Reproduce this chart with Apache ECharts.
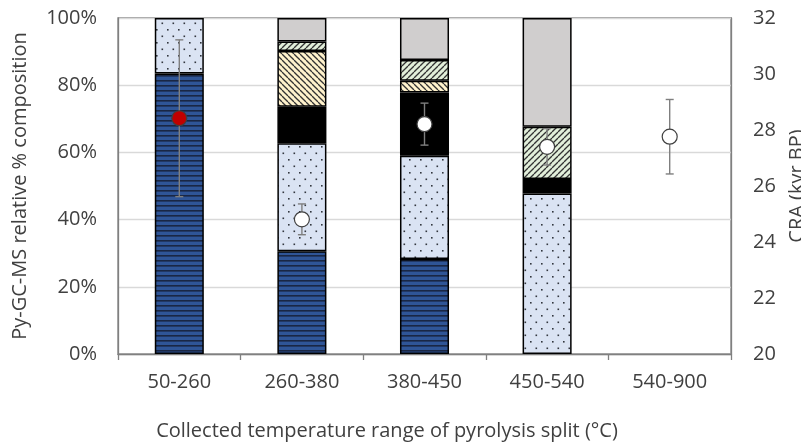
<!DOCTYPE html>
<html><head><meta charset="utf-8">
<script src="https://cdn.jsdelivr.net/npm/echarts@6/dist/echarts.min.js"></script>
<style>html,body{margin:0;padding:0;background:#fff}#c{width:801px;height:444px}</style>
</head><body><div id="c"></div>
<script>
const categories = ['50-260', '260-380', '380-450', '450-540', '540-900'];
const blueStriped = [83.5, 30.6, 28.3, 0, null];
const dottedBlue = [16.5, 32.1, 30.7, 47.8, null];
const blackPart = [0, 10.9, 18.8, 4.3, null];
const yellowHatch = [0, 16.6, 3.5, 0, null];
const greenHatch = [0, 2.8, 6.2, 15.5, null];
const greyPart = [0, 7.0, 12.5, 32.4, null];
const craValues = [28.42, 24.81, 28.21, 27.40, 27.76];
const craErrors = [2.8, 0.55, 0.75, 0.65, 1.33];
const leftTicks = { min: 0, max: 100, interval: 20 };
const rightTicks = { min: 20, max: 32, interval: 2 };

function tile(w, h, draw) {
  const c = document.createElement('canvas');
  c.width = w; c.height = h;
  const g = c.getContext('2d');
  draw(g, w, h);
  return { image: c, repeat: 'repeat' };
}
const stripePat = tile(8, 5, (g, w, h) => {
  g.fillStyle = '#2f5597'; g.fillRect(0, 0, w, h);
  g.fillStyle = '#1a2744'; g.fillRect(0, 0, w, 1.6);
});
const dotPat = tile(11, 13, (g, w, h) => {
  g.fillStyle = '#dae3f3'; g.fillRect(0, 0, w, h);
  g.fillStyle = '#33373f';
  g.fillRect(2, 3, 1.6, 1.6);
  g.fillRect(7.5, 9.5, 1.6, 1.6);
});
function hatch(bg, back) {
  return tile(6, 6, (g, w, h) => {
    g.fillStyle = bg; g.fillRect(0, 0, w, h);
    g.strokeStyle = '#333333'; g.lineWidth = 1.3;
    for (const k of [-w, 0, w]) {
      g.beginPath();
      if (back) { g.moveTo(k, 0); g.lineTo(k + w, h); }
      else { g.moveTo(k, h); g.lineTo(k + w, 0); }
      g.stroke();
    }
  });
}
const yellowPat = hatch('#fff2cc', true);
const greenPat = hatch('#e2efda', false);

const font = 'Open Sans';
const txt = '#404040';
const fs = 20;
function barSeries(name, data, color) {
  return {
    name, type: 'bar', stack: 'comp',
    data: data.map(v => (v ? v : '-')),
    barWidth: '40%',
    itemStyle: { color, borderColor: '#000', borderWidth: 1.5 },
    z: 2
  };
}
const chart = echarts.init(document.getElementById('c'));
chart.setOption({
  animation: false,
  backgroundColor: '#fff',
  grid: { left: 118, right: 70, top: 18, bottom: 90, show: true, borderColor: '#808080', borderWidth: 1.3,
          containLabel: false, outerBoundsMode: 'none' },
  xAxis: {
    type: 'category', data: categories,
    axisLine: { lineStyle: { color: '#808080', width: 1.3 } },
    axisTick: { show: true, length: 6, lineStyle: { color: '#808080', width: 1.3 } },
    axisLabel: { color: txt, fontFamily: font, fontSize: fs, margin: 18 },
    name: 'Collected temperature range of pyrolysis split (°C)',
    nameLocation: 'middle', nameGap: 67,
    nameTextStyle: { color: txt, fontFamily: font, fontSize: fs, padding: [0, 75, 0, 0] }
  },
  yAxis: [{
    type: 'value', min: leftTicks.min, max: leftTicks.max, interval: leftTicks.interval,
    axisLine: { show: true, lineStyle: { color: '#808080', width: 1.3 } },
    axisTick: { show: false },
    splitLine: { lineStyle: { color: '#d9d9d9', width: 1.3 } },
    axisLabel: { color: txt, fontFamily: font, fontSize: fs, margin: 21, formatter: '{value}%' },
    name: 'Py-GC-MS relative % composition', nameLocation: 'middle', nameGap: 88,
    nameTextStyle: { color: txt, fontFamily: font, fontSize: fs }
  }, {
    type: 'value', position: 'right', min: rightTicks.min, max: rightTicks.max, interval: rightTicks.interval,
    axisLine: { show: true, lineStyle: { color: '#808080', width: 1.3 } },
    axisTick: { show: false },
    splitLine: { show: false },
    axisLabel: { color: txt, fontFamily: font, fontSize: fs, margin: 22 },
    name: 'CRA (kyr BP)', nameLocation: 'middle', nameGap: 56, nameRotate: 90,
    nameTextStyle: { color: txt, fontFamily: font, fontSize: fs }
  }],
  series: [
    barSeries('Striped', blueStriped, stripePat),
    barSeries('Dotted', dottedBlue, dotPat),
    barSeries('Black', blackPart, '#000000'),
    barSeries('Yellow hatch', yellowHatch, yellowPat),
    barSeries('Green hatch', greenHatch, greenPat),
    barSeries('Grey', greyPart, '#d0cece'),
    {
      name: 'CRA error', type: 'custom', yAxisIndex: 1, z: 5,
      data: craValues.map((v, i) => [i, v - craErrors[i], v + craErrors[i]]),
      renderItem: (params, api) => {
        const lo = api.coord([api.value(0), api.value(1)]);
        const hi = api.coord([api.value(0), api.value(2)]);
        const cap = 4;
        const st = { stroke: '#7f7f7f', lineWidth: 1.4 };
        return { type: 'group', children: [
          { type: 'line', shape: { x1: lo[0], y1: lo[1], x2: hi[0], y2: hi[1] }, style: st },
          { type: 'line', shape: { x1: lo[0] - cap, y1: lo[1], x2: lo[0] + cap, y2: lo[1] }, style: st },
          { type: 'line', shape: { x1: hi[0] - cap, y1: hi[1], x2: hi[0] + cap, y2: hi[1] }, style: st }
        ] };
      }
    },
    {
      name: 'CRA', type: 'scatter', yAxisIndex: 1, z: 6, symbolSize: 15,
      data: craValues.map((v, i) => ({
        value: [i, v],
        itemStyle: { color: i === 0 ? '#c00000' : '#ffffff', borderColor: '#404040', borderWidth: 1.2, opacity: 1 }
      }))
    }
  ]
});
</script></body></html>
